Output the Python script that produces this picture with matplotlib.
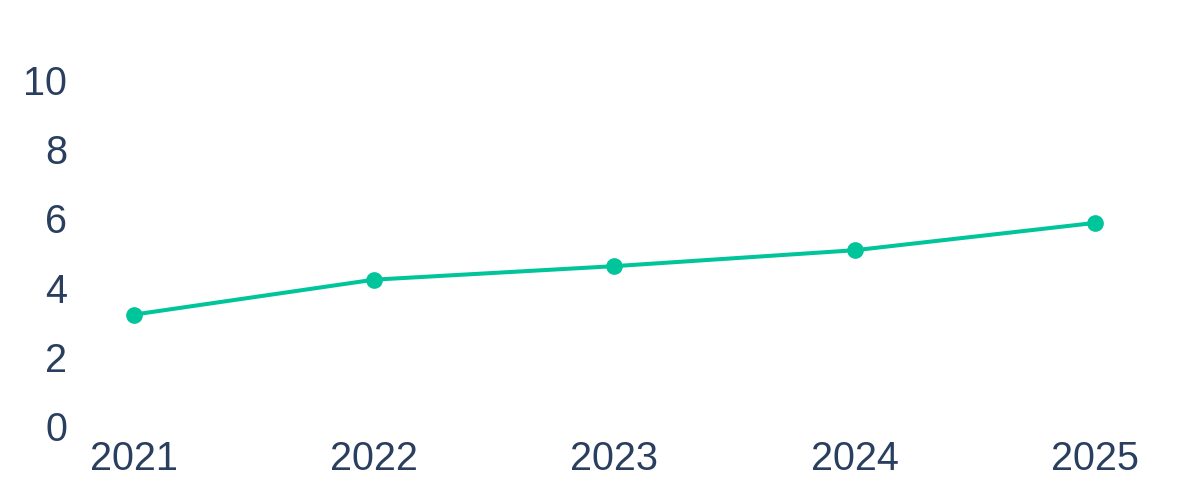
import matplotlib
matplotlib.use("Agg")
import matplotlib.pyplot as plt

years = [2021, 2022, 2023, 2024, 2025]
values = [3.22, 4.23, 4.62, 5.08, 5.87]
y_ticks = [0, 2, 4, 6, 8, 10]

plt.rcParams['font.family'] = ['Liberation Sans', 'DejaVu Sans']
text_color = '#2a3f5f'
line_color = '#00c49a'

fig = plt.figure(figsize=(12, 5), dpi=100)
ax = fig.add_axes([90/1200, 74/500, 1050/1200, 380.6/500])
ax.plot(years, values, color=line_color, linewidth=2.9, marker='o', markersize=11,
        solid_capstyle='round')

ppy = 240.25
ax.set_xlim(2021 - 44/ppy, 2025 + 45/ppy)
ax.set_ylim(0, 11)
ax.set_xticks(years)
ax.set_xticklabels([str(y) for y in years])
ax.set_yticks(y_ticks)
ax.set_yticklabels([str(t) for t in y_ticks])
for s in ax.spines.values():
    s.set_visible(False)
ax.tick_params(axis='both', length=0, labelsize=28.5, labelcolor=text_color)
ax.tick_params(axis='y', pad=16.5)
ax.tick_params(axis='x', pad=10)

fig.savefig('out.png', dpi=100)
